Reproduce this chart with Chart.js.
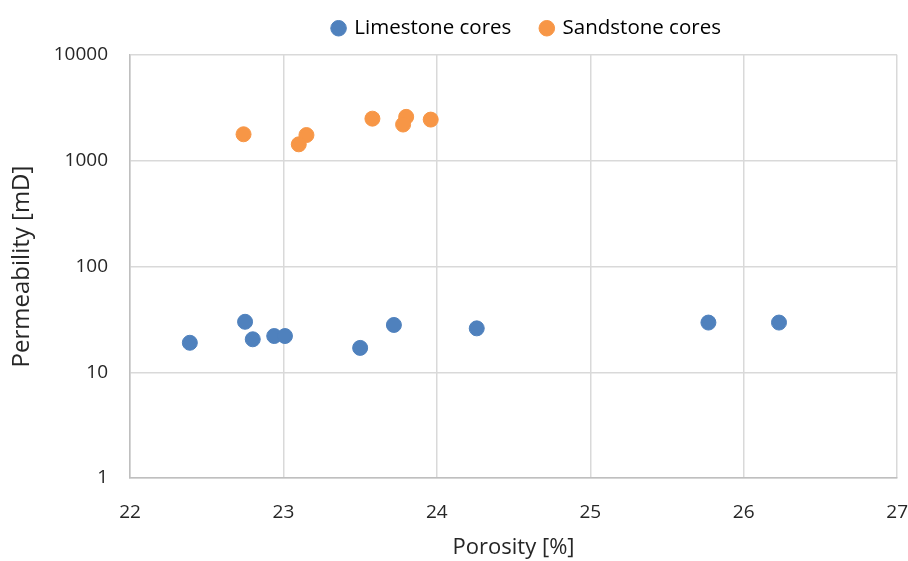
<!DOCTYPE html>
<html>
<head>
<meta charset="utf-8">
<script src="https://cdn.jsdelivr.net/npm/chart.js@4"></script>
<style>
  html, body { margin: 0; padding: 0; background: #fff; }
  #wrap { width: 908px; height: 561px; }
</style>
</head>
<body>
<div id="wrap"><canvas id="chart" width="908" height="561"></canvas></div>
<script>
// porosity [%] and permeability [mD]
const limestonePorosity = [22.39, 22.75, 22.80, 22.94, 23.01, 23.50, 23.72, 24.26, 25.77, 26.23];
const limestonePerm = [19, 30, 20.5, 22, 22, 17, 28, 26, 29.5, 29.5];

const sandstonePorosity = [22.74, 23.15, 23.10, 23.58, 23.80, 23.78, 23.96];
const sandstonePerm = [1780, 1750, 1430, 2500, 2600, 2200, 2450];

const yTicks = [1, 10, 100, 1000, 10000];

function toPoints(xs, ys) {
  return xs.map((x, i) => ({ x: x, y: ys[i] }));
}

const fontFamily = "'Open Sans', 'Noto Sans', sans-serif";
const textColor = '#262626';

// legend sits above the plot, nudged right and up like the original
const legendTweak = {
  id: 'legendTweak',
  beforeInit(chart) {
    const fit = chart.legend.fit;
    chart.legend.fit = function () {
      fit.bind(chart.legend)();
      this.height = 53;
    };
  },
  afterLayout(chart) {
    const lg = chart.legend;
    lg.left += 74;
    lg.right += 74;
    lg.top -= 14;
    lg.bottom -= 14;
  }
};

new Chart(document.getElementById('chart').getContext('2d'), {
  type: 'scatter',
  data: {
    datasets: [
      {
        label: 'Limestone cores',
        data: toPoints(limestonePorosity, limestonePerm),
        backgroundColor: '#4F81BD',
        borderColor: '#4F81BD',
        pointRadius: 7.5,
        pointHoverRadius: 7.5
      },
      {
        label: 'Sandstone cores',
        data: toPoints(sandstonePorosity, sandstonePerm),
        backgroundColor: '#F79646',
        borderColor: '#F79646',
        pointRadius: 7.5,
        pointHoverRadius: 7.5
      }
    ]
  },
  plugins: [legendTweak],
  options: {
    responsive: false,
    animation: false,
    layout: { padding: { left: 2, right: 4, top: 2, bottom: 0 } },
    plugins: {
      legend: {
        position: 'top',
        labels: {
          usePointStyle: true,
          pointStyle: 'circle',
          boxWidth: 11,
          boxHeight: 11,
          padding: 30,
          color: '#000',
          font: { family: fontFamily, size: 20.5 }
        }
      },
      tooltip: { enabled: false }
    },
    scales: {
      x: {
        type: 'linear',
        min: 22,
        max: 27,
        afterFit: s => { s.height = 83; },
        ticks: { stepSize: 1, color: textColor, padding: 0, font: { family: fontFamily, size: 19 } },
        grid: { color: '#d9d9d9', lineWidth: 1.5, drawTicks: true, tickLength: 23, tickColor: 'rgba(0,0,0,0)' },
        border: { color: '#bfbfbf', width: 1.5 },
        title: { display: true, text: 'Porosity [%]', color: textColor, font: { family: fontFamily, size: 22 }, padding: { top: 12, bottom: 0 } }
      },
      y: {
        type: 'logarithmic',
        min: 1,
        max: 10000,
        afterBuildTicks: axis => { axis.ticks = yTicks.map(v => ({ value: v })); },
        afterFit: s => { s.width = 128; },
        ticks: { color: textColor, padding: 0, font: { family: fontFamily, size: 19 }, callback: v => String(v) },
        grid: { color: '#d9d9d9', lineWidth: 1.5, drawTicks: true, tickLength: 22, tickColor: 'rgba(0,0,0,0)' },
        border: { color: '#bfbfbf', width: 1.5 },
        title: { display: true, text: 'Permeability [mD]', color: textColor, font: { family: fontFamily, size: 24 }, padding: { top: 6, bottom: 0 } }
      }
    }
  }
});
</script>
</body>
</html>
